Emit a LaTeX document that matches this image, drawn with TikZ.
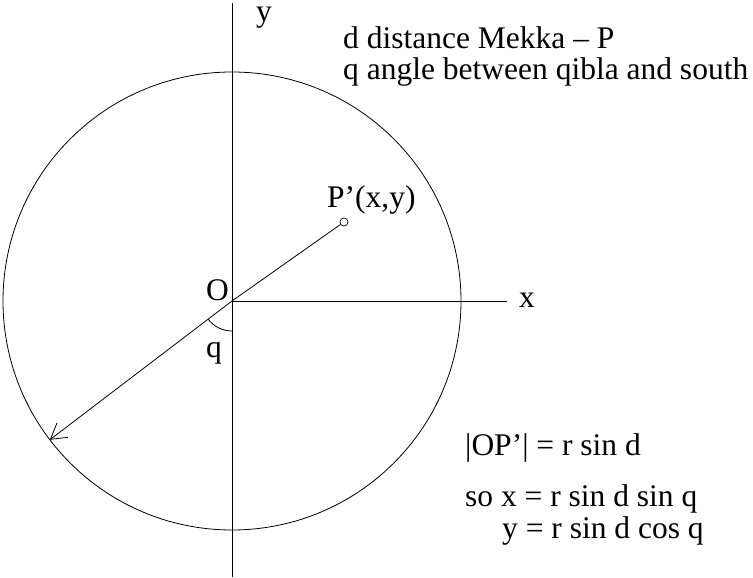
\documentclass[tikz,border=0pt]{standalone}
\usepackage{fontspec}
\setmainfont{Liberation Serif}
\usetikzlibrary{arrows.meta,positioning}

\begin{document}
\begin{tikzpicture}[
  x=1pt, y=1pt,
  font=\fontsize{31.5}{34}\selectfont,
  thin line/.style={line width=0.8pt},
  txt/.style={inner sep=0pt, anchor=base west},
  arr/.style={-{Straight Barb[length=15pt, width=18pt]}, line width=0.8pt},
  dot/.style={draw, circle, inner sep=0pt, minimum size=8pt, line width=0.7pt},
]
\useasboundingbox (0,0) rectangle (753,578);

%% --- Axes and circle ---
\coordinate (O)    at (232,277);
\coordinate (ytop) at (232,575);
\coordinate (ybot) at (232,1);
\coordinate (xend) at (507,277);
\path (O) ++(217.3:229) coordinate (tip);

\draw[thin line] (O) circle[radius=229];
\draw[thin line] (ybot) -- (ytop);
\draw[thin line] (O) -- (xend);

%% --- P' and its projection ---
\node[dot] (pc) at (344,356) {};
\draw[thin line] (O) -- (pc);
\draw[arr] (O) -- (tip);
\draw[thin line] (O) ++(217.3:30) arc[start angle=217.3, end angle=270, radius=30];

%% --- Labels ---
\node[txt, anchor=base] (ylab) at (264,556) {y};
\node[txt] (xlab) at (519,270) {x};
\node[txt] (olab) at (206,277) {O};
\node[txt] (qlab) at (206,220) {q};
\node[txt] (plab) at (327,370) {P'(x,y)};

%% --- Legend ---
\node[txt] (legd) at (343,529) {d distance Mekka -- P};
\node[txt] (legq) at (343,498) {q angle between qibla and south};

%% --- Equations ---
\node[txt] (eq1) at (465,122) {|OP'| = r sin d};
\node[txt] (eq2) at (465,71)  {so x = r sin d sin q};
\node[txt] (eq3) at (502,39)  {y = r sin d cos q};

\end{tikzpicture}
\end{document}
